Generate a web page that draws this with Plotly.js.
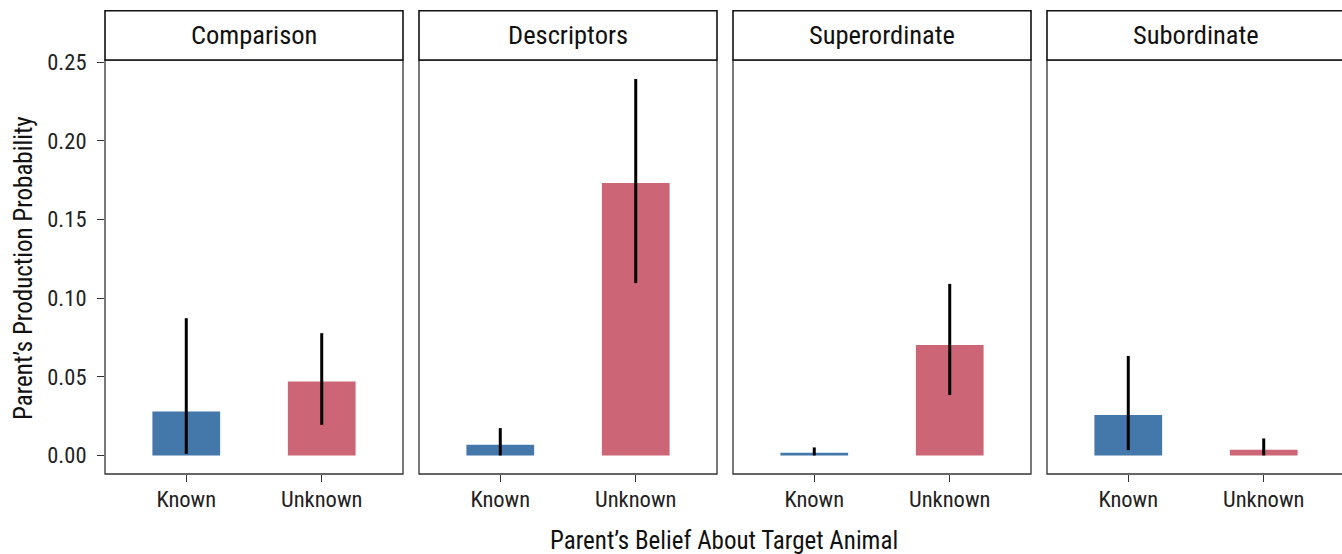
<!DOCTYPE html>
<html>
<head>
<meta charset="utf-8">
<script src="https://cdn.plot.ly/plotly-3.0.1.min.js"></script>
<style>
html,body{margin:0;padding:0;overflow:hidden;background:#fff;}
#chart{width:1345px;height:554px;}
</style>
</head>
<body>
<div id="chart"></div>
<script>
// ---- data ----
const categories = ['Known', 'Unknown'];
const panelNames = ['Comparison', 'Descriptors', 'Superordinate', 'Subordinate'];
const comparisonMean = [0.028, 0.047];
const comparisonLow  = [0.001, 0.0195];
const comparisonHigh = [0.0873, 0.0778];
const descriptorsMean = [0.0068, 0.1733];
const descriptorsLow  = [0.0, 0.1096];
const descriptorsHigh = [0.0174, 0.2394];
const superordinateMean = [0.0017, 0.0703];
const superordinateLow  = [0.0, 0.0384];
const superordinateHigh = [0.0051, 0.1091];
const subordinateMean = [0.0258, 0.0036];
const subordinateLow  = [0.0034, 0.0];
const subordinateHigh = [0.0633, 0.0108];
const yTickVals = [0, 0.05, 0.10, 0.15, 0.20, 0.25];
const yTickText = ['0.00', '0.05', '0.10', '0.15', '0.20', '0.25'];
const barColors = ['#4477AA', '#CC6677'];

const means = [comparisonMean, descriptorsMean, superordinateMean, subordinateMean];
const lows  = [comparisonLow, descriptorsLow, superordinateLow, subordinateLow];
const highs = [comparisonHigh, descriptorsHigh, superordinateHigh, subordinateHigh];

const FONT = '"Liberation Sans Narrow", "Roboto Condensed", Roboto, sans-serif';
const plotW = 1240;
const plotH = 414;
const panelW = 298, gap = 16;

const traces = [];
const layout = {
  width: 1345, height: 554,
  margin: {l: 105, r: 0, t: 60, b: 80, pad: 0},
  paper_bgcolor: '#fff', plot_bgcolor: '#fff',
  showlegend: false,
  font: {family: FONT, color: '#222', size: 22},
  shapes: [], annotations: [],
  yaxis: {
    range: [-0.0118, 0.2515], tickvals: yTickVals, ticktext: yTickText,
    ticks: 'outside', ticklen: 7, tickcolor: '#333', tickwidth: 1,
    ticklabelstandoff: 6,
    showgrid: false, zeroline: false, showline: false,
    tickfont: {family: FONT, size: 22.5, color: '#222'},
    anchor: 'x', fixedrange: true
  }
};

for (let i = 0; i < 4; i++) {
  const xa = i === 0 ? 'x' : 'x' + (i + 1);
  const xkey = i === 0 ? 'xaxis' : 'xaxis' + (i + 1);
  const d0 = (i * (panelW + gap)) / plotW;
  const d1 = (i * (panelW + gap) + panelW) / plotW;
  layout[xkey] = {
    domain: [d0, Math.min(d1, 1)],
    type: 'category', range: [-0.6, 1.6],
    ticks: 'outside', ticklen: 7, tickcolor: '#333', tickwidth: 1,
    ticklabelstandoff: -2,
    showgrid: false, zeroline: false, showline: false,
    tickfont: {family: FONT, size: 22.5, color: '#222'},
    anchor: 'y', fixedrange: true
  };
  const m = means[i];
  traces.push({
    type: 'bar', x: categories, y: m, xaxis: xa, yaxis: 'y',
    width: 0.5, marker: {color: barColors, line: {width: 0}},
    error_y: {
      type: 'data', symmetric: false,
      array: m.map((v, k) => highs[i][k] - v),
      arrayminus: m.map((v, k) => v - lows[i][k]),
      color: '#000', thickness: 3, width: 0
    },
    hoverinfo: 'skip'
  });
  // panel border
  layout.shapes.push({type: 'rect', xref: xa + ' domain', yref: 'y domain',
    x0: 0, x1: 1, y0: 0, y1: 1, line: {color: '#333', width: 1.3}, layer: 'above'});
  // strip
  layout.shapes.push({type: 'rect', xref: xa + ' domain', yref: 'y domain',
    x0: 0, x1: 1, y0: 1, y1: 1 + 49.3 / plotH, line: {color: '#111', width: 1.6}, fillcolor: '#fff', layer: 'above'});
  layout.annotations.push({text: panelNames[i], xref: xa + ' domain', yref: 'y domain',
    x: 0.5, y: 1 + 25.5 / plotH, xanchor: 'center', yanchor: 'middle', showarrow: false,
    font: {family: FONT, size: 26.5, color: '#111'}});
}
// x title
layout.annotations.push({text: 'Parent\u2019s Belief About Target Animal', xref: 'paper', yref: 'paper',
  x: (723.5 - 105) / plotW, y: -(540 - 474) / plotH, xanchor: 'center', yanchor: 'middle', showarrow: false,
  font: {family: FONT, size: 25, color: '#111'}});
// y title
layout.annotations.push({text: 'Parent\u2019s Production Probability', xref: 'paper', yref: 'paper',
  x: (23 - 105) / plotW, y: (474 - 268) / plotH, xanchor: 'center', yanchor: 'middle', textangle: -90, showarrow: false,
  font: {family: FONT, size: 25, color: '#111'}});

Plotly.newPlot('chart', traces, layout, {displayModeBar: false, staticPlot: true});
</script>
</body>
</html>
